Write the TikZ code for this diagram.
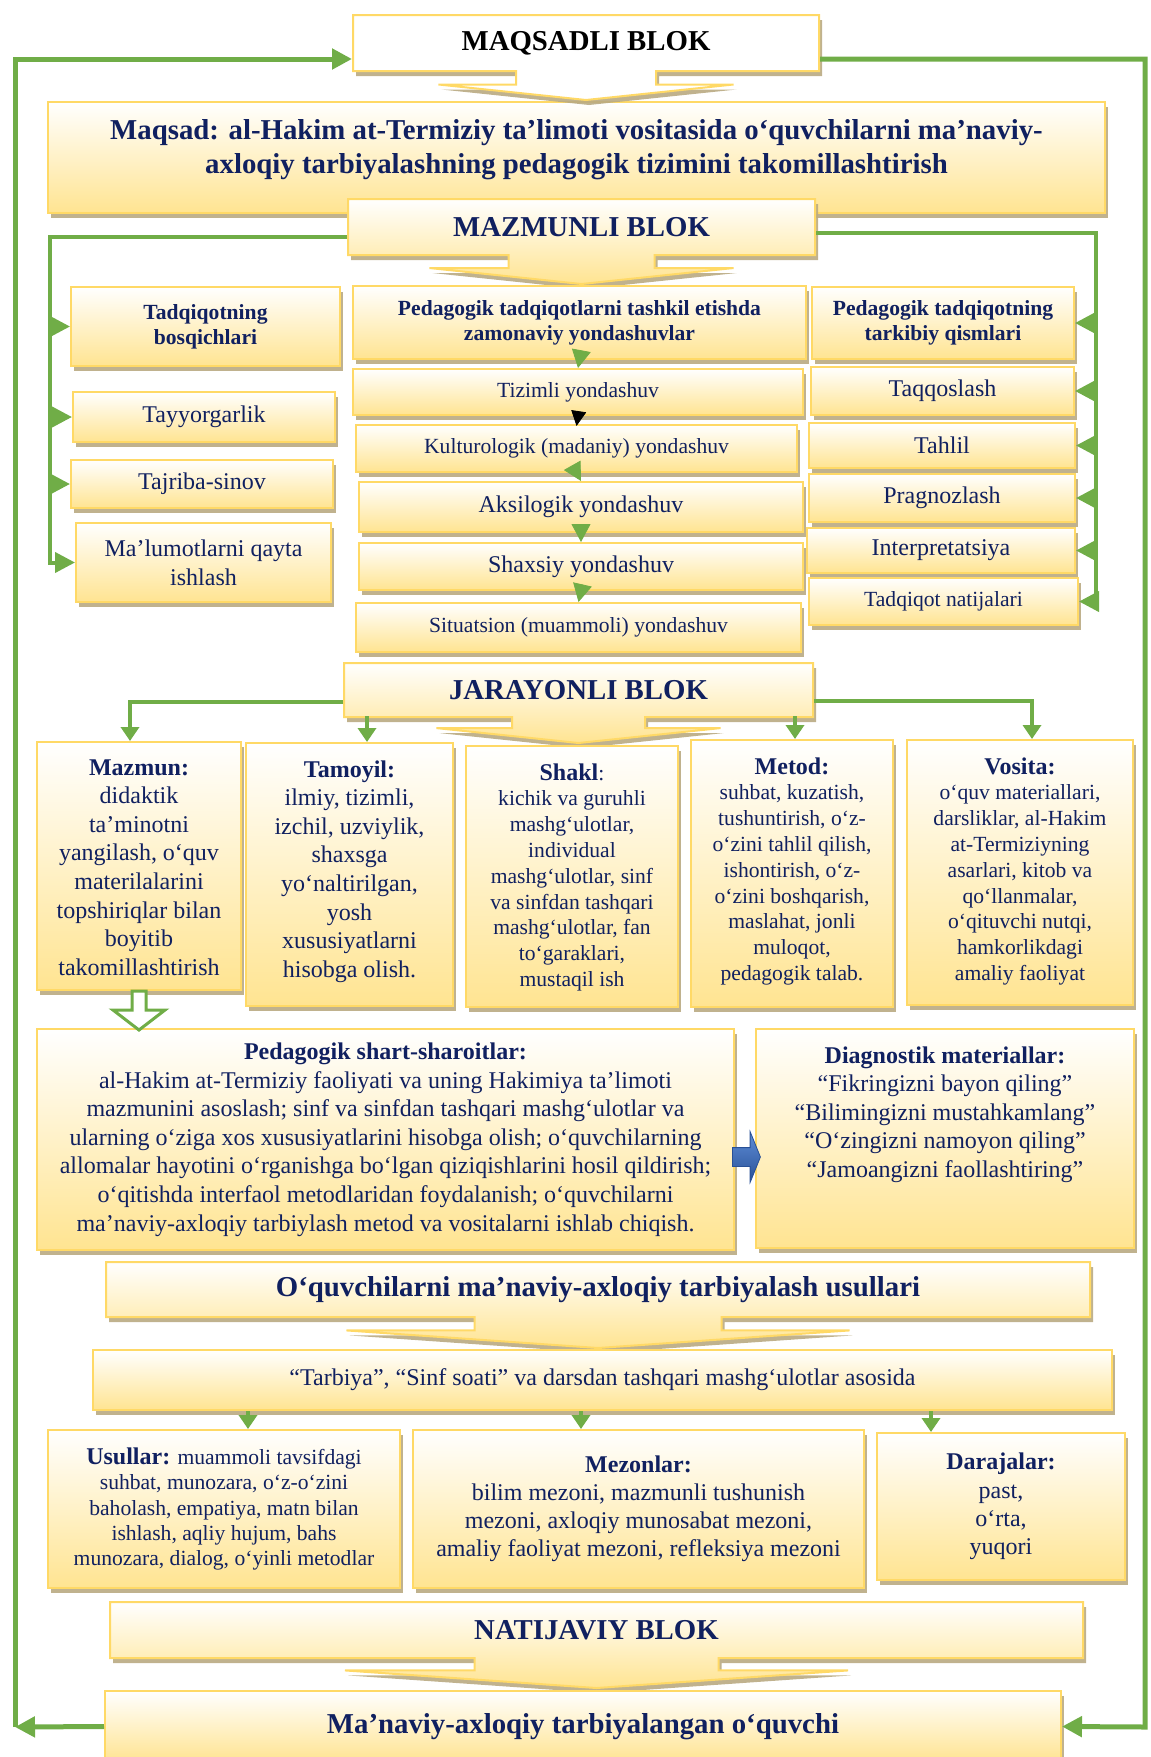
\documentclass[tikz,border=0pt]{standalone}
\usepackage{fontspec}
\setmainfont{Liberation Serif}
\usetikzlibrary{positioning,arrows.meta,shapes.arrows,shadows}
\definecolor{grn}{RGB}{112,173,71}
\definecolor{navy}{RGB}{16,32,96}
\definecolor{edge}{RGB}{255,217,102}
\definecolor{gold}{RGB}{255,228,145}
\definecolor{shd}{RGB}{185,170,130}
\definecolor{blu1}{RGB}{95,142,216}
\definecolor{blu2}{RGB}{40,80,150}
\newcommand{\fs}[2]{\fontsize{#1}{#2}\selectfont}

\tikzset{
  box/.style={draw=edge, line width=1pt, top color=white, bottom color=gold,
    drop shadow={shadow xshift=1.5pt, shadow yshift=-2.5pt, fill=shd, opacity=.9},
    inner sep=2pt, text=navy, align=center},
  wbox/.style={top color=white, bottom color=white},
  blok/.style={box, arrow box, arrow box arrows={north:0pt,east:0pt,west:0pt,south:#1},
    arrow box tip angle=168},
  hdr/.style={font=\bfseries\fs{14.4}{17}, text=navy, align=center},
  txt/.style={inner sep=0pt, text=navy, align=center},
  gline/.style={draw=grn, line width=2pt},
  garrow/.style={gline, -{Triangle[length=10pt,width=10pt]}},
  loop/.style={draw=grn, line width=2.5pt, -{Triangle[length=10pt,width=10pt]}},
  gtip/.style={draw=grn, line width=.4pt, -{Triangle[length=9pt,width=9.5pt]}},
  gsmall/.style={gline, -{Triangle[length=7pt,width=9pt]}},
  btip/.style={draw=black, line width=.4pt, -{Triangle[length=7.5pt,width=7.5pt]}}
}

\begin{document}
\begin{tikzpicture}[x=0.5pt, y=-0.5pt]
\useasboundingbox (0,0) rectangle (1151,1757);

% maqsadli blok
\node[box, minimum width=528.5pt, minimum height=55.5pt] (qsd) at (576.5,157.5) {};
\node[hdr] (qsdt) at ([yshift=4pt]qsd.center) {Maqsad: al-Hakim at-Termiziy ta’limoti vositasida o‘quvchilarni ma’naviy-\\axloqiy tarbiyalashning pedagogik tizimini takomillashtirish};
\node[blok=14pt, wbox, hdr, text=black, minimum width=233pt, minimum height=28pt,
  arrow box shaft width=70pt, arrow box head extend=38.75pt] (maq) at (586,43) {MAQSADLI BLOK};

% mazmunli blok
\node[blok=14pt, hdr, minimum width=233.5pt, minimum height=28pt,
  arrow box shaft width=73pt, arrow box head extend=39.5pt] (mzb) at (581.5,227) {MAZMUNLI BLOK};

\node[box, font=\bfseries\fs{10.8}{12.4}, minimum width=134.5pt, minimum height=39.5pt] (tb) at (205.5,326.5) {Tadqiqotning\\bosqichlari};
\node[box, font=\fs{12}{14.5}, minimum width=131pt, minimum height=25pt] (tay) at (204,417) {Tayyorgarlik};
\node[box, font=\fs{12}{14.5}, minimum width=131pt, minimum height=24pt] (taj) at (202,484) {Tajriba-sinov};
\node[box, font=\fs{12}{14.6}, minimum width=127.5pt, minimum height=39.5pt] (mal) at (203.5,562.5) {Ma’lumotlarni qayta\\ishlash};

\node[box, font=\bfseries\fs{10.8}{12.4}, minimum width=226.5pt, minimum height=36.5pt] (pt) at (579.5,322.5) {Pedagogik tadqiqotlarni tashkil etishda\\zamonaviy yondashuvlar};
\node[box, font=\fs{10.8}{13}, minimum width=225pt, minimum height=23pt] (tiz) at (578,392) {Tizimli yondashuv};
\node[box, font=\fs{10.8}{13}, minimum width=220.5pt, minimum height=23.5pt] (kul) at (576.5,448.5) {Kulturologik (madaniy) yondashuv};
\node[box, font=\fs{12}{14.5}, minimum width=222pt, minimum height=25pt] (aks) at (581,507) {Aksilogik yondashuv};
\node[box, font=\fs{12}{14.5}, minimum width=222pt, minimum height=23.5pt] (shx) at (581,566.5) {Shaxsiy yondashuv};
\node[box, font=\fs{10.8}{13}, minimum width=222.5pt, minimum height=24.5pt] (sit) at (578.5,627.5) {Situatsion (muammoli) yondashuv};

\node[box, font=\bfseries\fs{10.8}{12.4}, minimum width=131pt, minimum height=36pt] (ptq) at (943,323) {Pedagogik tadqiqotning\\tarkibiy qismlari};
\node[box, font=\fs{12}{14.5}, minimum width=131.5pt, minimum height=24pt] (taq) at (942.5,391) {Taqqoslash};
\node[box, font=\fs{12}{14.5}, minimum width=133pt, minimum height=22.5pt] (tah) at (942,445.5) {Tahlil};
\node[box, font=\fs{12}{14.5}, minimum width=133pt, minimum height=24pt] (pra) at (942,498) {Pragnozlash};
\node[box, font=\fs{12}{14.5}, minimum width=134pt, minimum height=22.5pt] (itp) at (941,550.5) {Interpretatsiya};
\node[box, font=\fs{10.8}{13}, minimum width=134.5pt, minimum height=23.5pt] (tnj) at (943.5,601.5) {Tadqiqot natijalari};

\coordinate (lt) at (50,565);
\coordinate (rt) at (1096,602);
\draw[gline] ([yshift=-5pt]mzb.west) -| (lt);
\draw[gline] ([yshift=-3pt]mzb.east) -| (rt);
\foreach \n in {tb,tay,taj,mal}
  \draw[garrow] (\n.west -| lt) -- (\n.west);
\foreach \n in {ptq,taq,tah,pra,itp,tnj}
  \draw[garrow] (\n.east -| rt) -- (\n.east);
\foreach \a/\b in {pt/tiz,kul/aks,aks/shx,shx/sit}
  \draw[gtip] (\a.south) -- (\b.north);
\draw[btip] (tiz.south) -- ([yshift=-1pt]kul.north);

% jarayonli blok
\node[blok=12.5pt, hdr, minimum width=234.5pt, minimum height=27pt,
  arrow box shaft width=66.5pt, arrow box head extend=37.75pt] (jar) at (578.5,690) {JARAYONLI BLOK};

\node[box, minimum width=102pt, minimum height=124pt] (mzn) at (139,866) {};
\node[box, minimum width=103.5pt, minimum height=131.5pt] (tam) at (349.5,874.5) {};
\node[box, minimum width=106pt, minimum height=130.5pt] (shk) at (572,876.5) {};
\node[box, minimum width=101pt, minimum height=133.5pt] (met) at (792,873.5) {};
\node[box, minimum width=113pt, minimum height=132.5pt] (vos) at (1020,872.5) {};

\node[txt, font=\fs{12}{14.3}, below=9pt of mzn.north] (mznt) {\textbf{Mazmun:}\\didaktik\\ta’minotni\\yangilash, o‘quv\\materilalarini\\topshiriqlar bilan\\boyitib\\takomillashtirish};
\node[txt, font=\fs{12}{14.3}, below=9pt of tam.north] (tamt) {\textbf{Tamoyil:}\\ilmiy, tizimli,\\izchil, uzviylik,\\shaxsga\\yo‘naltirilgan,\\yosh\\xususiyatlarni\\hisobga olish.};
\node[txt, font=\fs{10.8}{12.9}, below=9pt of shk.north] (shkt) {\textbf{\fs{12}{12.9}Shakl}:\\kichik va guruhli\\mashg‘ulotlar,\\individual\\mashg‘ulotlar, sinf\\va sinfdan tashqari\\mashg‘ulotlar, fan\\to‘garaklari,\\mustaqil ish};
\node[txt, font=\fs{10.8}{12.9}, below=9pt of met.north] (mett) {\textbf{\fs{12}{12.9}Metod:}\\suhbat, kuzatish,\\tushuntirish, o‘z-\\o‘zini tahlil qilish,\\ishontirish, o‘z-\\o‘zini boshqarish,\\maslahat, jonli\\muloqot,\\pedagogik talab.};
\node[txt, font=\fs{10.8}{12.9}, below=9pt of vos.north] (vost) {\textbf{\fs{12}{12.9}Vosita:}\\o‘quv materiallari,\\darsliklar, al-Hakim\\at-Termiziyning\\asarlari, kitob va\\qo‘llanmalar,\\o‘qituvchi nutqi,\\hamkorlikdagi\\amaliy faoliyat};

\draw[gsmall] ([yshift=-6pt]jar.west) -| ([xshift=-4.5pt]mzn.north);
\draw[gsmall] ([yshift=-5.5pt]jar.east) -| ([xshift=6pt]vos.north);
\draw[gsmall] ([xshift=8.75pt, yshift=13pt]tam.north) -- ([xshift=8.75pt]tam.north);
\draw[gsmall] ([xshift=1.5pt, yshift=11.5pt]met.north) -- ([xshift=1.5pt]met.north);

% shart-sharoitlar
\node[box, font=\fs{12}{14.3}, minimum width=348.5pt, minimum height=110.5pt] (psh) at (385.5,1139.5) {\textbf{Pedagogik shart-sharoitlar:}\\al-Hakim at-Termiziy faoliyati va uning Hakimiya ta’limoti\\mazmunini asoslash; sinf va sinfdan tashqari mashg‘ulotlar va\\ularning o‘ziga xos xususiyatlarini hisobga olish; o‘quvchilarning\\allomalar hayotini o‘rganishga bo‘lgan qiziqishlarini hosil qildirish;\\o‘qitishda interfaol metodlaridan foydalanish; o‘quvchilarni\\ma’naviy-axloqiy tarbiylash metod va vositalarni ishlab chiqish.};
\node[box, minimum width=189pt, minimum height=109.5pt] (dgn) at (945,1138.5) {};
\node[txt, font=\fs{12}{14.3}, below=9pt of dgn.north] (dgnt) {\textbf{Diagnostik materiallar:}\\“Fikringizni bayon qiling”\\“Bilimingizni mustahkamlang”\\“O‘zingizni namoyon qiling”\\“Jamoangizni faollashtiring”};

\draw[draw=grn, line width=1.5pt, fill=white] ([xshift=-3.5pt]mzn.south) -- ++(14,0) -- ++(0,19)
  -- ++(19,0) -- ++(-26,20) -- ++(-26,-20) -- ++(19,0) -- cycle;
\node[single arrow, draw=blu2, line width=.4pt, top color=blu1, bottom color=blu2, inner sep=4.5pt,
  minimum height=14pt, single arrow head extend=8pt, single arrow tip angle=136, anchor=tail]
  (bar) at ([xshift=-1.5pt, yshift=-8.75pt]psh.east) {};

% tarbiyalash usullari
\node[blok=15pt, hdr, minimum width=492pt, minimum height=27.5pt, arrow box tip angle=172,
  arrow box shaft width=123.5pt, arrow box head extend=64pt] (usl) at (598,1289.5) {O‘quvchilarni ma’naviy-axloqiy tarbiyalash usullari};
\node[box, font=\fs{12}{14}, minimum width=509.5pt, minimum height=30pt] (trb) at (602.5,1380) {“Tarbiya”, “Sinf soati” va darsdan tashqari mashg‘ulotlar asosida};

\node[box, font=\fs{10.8}{12.7}, minimum width=176pt, minimum height=79pt] (usb) at (224,1509) {\textbf{\fs{12}{12.7}Usullar:} muammoli tavsifdagi\\suhbat, munozara, o‘z-o‘zini\\baholash, empatiya, matn bilan\\ishlash, aqliy hujum, bahs\\munozara, dialog, o‘yinli metodlar};
\node[box, font=\fs{12}{14}, minimum width=225.5pt, minimum height=79pt] (mzl) at (638.5,1509) {\textbf{Mezonlar:}\\bilim mezoni, mazmunli tushunish\\mezoni, axloqiy munosabat mezoni,\\amaliy faoliyat mezoni, refleksiya mezoni};
\node[box, font=\fs{12}{14.2}, minimum width=124pt, minimum height=73.5pt] (drj) at (1001,1506.5) {\textbf{Darajalar:}\\past,\\o‘rta,\\yuqori};

\draw[gsmall] ([xshift=12pt]usb.north |- trb.south) -- ([xshift=12pt]usb.north);
\draw[gsmall] ([xshift=-28.75pt]mzl.north |- trb.south) -- ([xshift=-28.75pt]mzl.north);
\draw[gsmall] ([xshift=-35pt]drj.north |- trb.south) -- ([xshift=-35pt]drj.north);

% natijaviy blok
\node[blok=14.5pt, hdr, minimum width=486.5pt, minimum height=28pt, arrow box tip angle=172,
  arrow box shaft width=122pt, arrow box head extend=64.75pt] (nat) at (596.5,1630) {NATIJAVIY BLOK};
\node[box, hdr, minimum width=478pt, minimum height=35.5pt] (out) at (583,1726.5) {Ma’naviy-axloqiy tarbiyalangan o‘quvchi};

% feedback loop
\coordinate (llc) at (15,1727);
\coordinate (rlc) at (1145,1727);
\draw[loop] (out.west) -- (llc);
\draw[loop] (llc) |- ([yshift=-8pt]maq.west);
\draw[loop] ([yshift=-8pt]maq.east) -| (rlc) -- (out.east);
\end{tikzpicture}
\end{document}
